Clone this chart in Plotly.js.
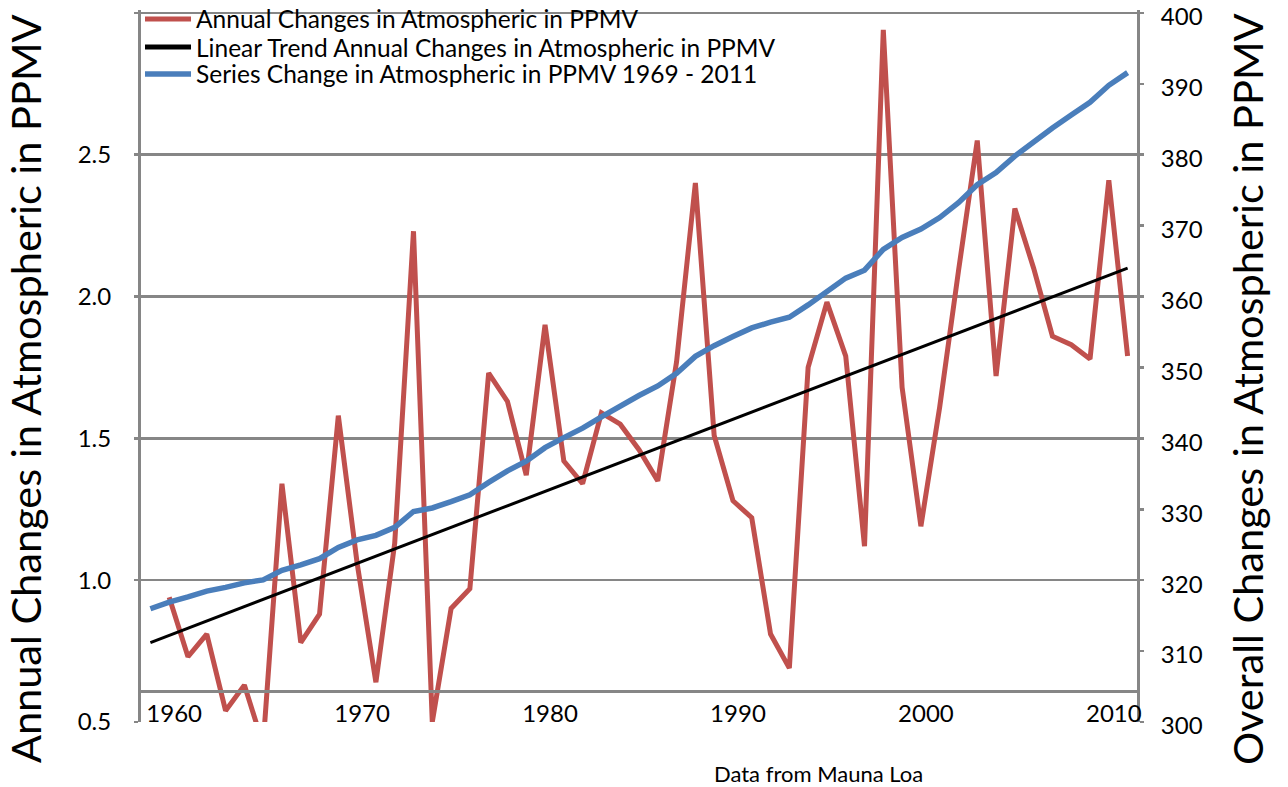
<!DOCTYPE html>
<html>
<head>
<meta charset="utf-8">
<script src="https://cdn.plot.ly/plotly-3.0.1.min.js"></script>
<style>html,body{margin:0;padding:0;background:#fff;}#chart{width:1288px;height:787px;}</style>
</head>
<body>
<div id="chart"></div>
<script>
// Annual mean CO2 at Mauna Loa (ppmv), 1959-2011 (right axis)
const seriesYears = [1959,1960,1961,1962,1963,1964,1965,1966,1967,1968,1969,1970,1971,1972,1973,1974,1975,1976,1977,1978,1979,1980,1981,1982,1983,1984,1985,1986,1987,1988,1989,1990,1991,1992,1993,1994,1995,1996,1997,1998,1999,2000,2001,2002,2003,2004,2005,2006,2007,2008,2009,2010,2011];
const seriesValues = [315.97,316.91,317.64,318.45,318.99,319.62,320.04,321.38,322.16,323.04,324.62,325.68,326.32,327.45,329.68,330.18,331.08,332.05,333.78,335.41,336.78,338.68,340.10,341.44,343.03,344.58,346.04,347.39,349.16,351.56,353.07,354.35,355.57,356.38,357.07,358.82,360.80,362.59,363.71,366.65,368.33,369.52,371.13,373.22,375.77,377.49,379.80,381.90,383.76,385.59,387.37,389.78,391.57];

// Annual changes (ppmv), 1960-2011 (left axis)
const changeYears = [1960,1961,1962,1963,1964,1965,1966,1967,1968,1969,1970,1971,1972,1973,1974,1975,1976,1977,1978,1979,1980,1981,1982,1983,1984,1985,1986,1987,1988,1989,1990,1991,1992,1993,1994,1995,1996,1997,1998,1999,2000,2001,2002,2003,2004,2005,2006,2007,2008,2009,2010,2011];
const changeValues = [0.94,0.73,0.81,0.54,0.63,0.42,1.34,0.78,0.88,1.58,1.06,0.64,1.13,2.23,0.50,0.90,0.97,1.73,1.63,1.37,1.90,1.42,1.34,1.59,1.55,1.46,1.35,1.77,2.40,1.51,1.28,1.22,0.81,0.69,1.75,1.98,1.79,1.12,2.94,1.68,1.19,1.61,2.09,2.55,1.72,2.31,2.10,1.86,1.83,1.78,2.41,1.79];

// Linear trend of annual changes (end points)
const trendYears = [1959, 2011];
const trendValues = [0.78, 2.10];

// Axis ticks
const xLabelYears = [1960,1970,1980,1990,2000,2010];
const xTickMarks = [1968.5,1978.5,1988.5,1998.5,2008.5];
const leftTickVals = [0.5,1.0,1.5,2.0,2.5,3.0];
const leftTickText = ['0.5','1.0','1.5','2.0','2.5',''];
const rightTickVals = [300,310,320,330,340,350,360,370,380,390,400];

const names = ['Annual Changes in Atmospheric in PPMV',
               'Linear Trend Annual Changes in Atmospheric in PPMV',
               'Series Change in Atmospheric in PPMV 1969 - 2011'];

const FONT = 'Lato, "Open Sans", sans-serif';
const GRAY = '#868686';
const RED = '#C0504D', BLUE = '#4A7EBB', BLACK = '#000000';

const traces = [
  {x: changeYears, y: changeValues, type: 'scatter', mode: 'lines', name: names[0],
   line: {color: RED, width: 5}, xaxis: 'x', yaxis: 'y', legend: 'legend'},
  {x: trendYears, y: trendValues, type: 'scatter', mode: 'lines', name: names[1],
   line: {color: BLACK, width: 3}, xaxis: 'x', yaxis: 'y', showlegend: false},
  {x: seriesYears, y: seriesValues, type: 'scatter', mode: 'lines', name: names[2],
   line: {color: BLUE, width: 5.5}, xaxis: 'x', yaxis: 'y2', legend: 'legend3'},
  // legend-only entry for the trend (thicker sample, as in the original legend)
  {x: [null], y: [null], type: 'scatter', mode: 'lines', name: names[1],
   line: {color: BLACK, width: 5}, xaxis: 'x', yaxis: 'y', legend: 'legend2', hoverinfo: 'skip'}
];

const axisPos = 0.0431;
const legendBase = {x: -0.001, xanchor: 'left', yanchor: 'middle', bgcolor: 'rgba(0,0,0,0)',
                    borderwidth: 0, font: {size: 24.5, family: FONT}, itemwidth: 46};

const layout = {
  width: 1288, height: 787,
  margin: {l: 141, r: 151, t: 10, b: 65, pad: 0, autoexpand: false},
  paper_bgcolor: '#ffffff', plot_bgcolor: '#ffffff',
  font: {family: FONT, color: '#000000'},
  showlegend: true,
  legend: Object.assign({}, legendBase, {y: 0.9874}),
  legend2: Object.assign({}, legendBase, {y: 0.9480}),
  legend3: Object.assign({}, legendBase, {y: 0.9101}),
  xaxis: {range: [1958.5, 2011.5], anchor: 'free', position: axisPos,
          tickvals: xLabelYears, ticktext: xLabelYears.map(String),
          ticks: '', showgrid: false, zeroline: false,
          showline: true, linecolor: GRAY, linewidth: 2.5,
          tickfont: {size: 24, family: FONT}, ticklabelstandoff: 0, ticklabelshift: 5,
          ticklabeloverflow: 'allow'},
  xaxis2: {range: [1958.5, 2011.5], overlaying: 'x', anchor: 'free', position: axisPos,
           tickvals: xTickMarks, ticks: 'outside', ticklen: 5, tickwidth: 2.5, tickcolor: GRAY,
           showticklabels: false, showgrid: false, zeroline: false, showline: false},
  yaxis: {range: [0.5, 3.01], tickvals: leftTickVals, ticktext: leftTickText,
          showgrid: true, gridcolor: GRAY, gridwidth: 2.5, zeroline: false,
          showline: true, linecolor: GRAY, linewidth: 3,
          ticks: 'outside', ticklen: 4, tickwidth: 2.5, tickcolor: GRAY,
          tickfont: {size: 24, family: FONT}, ticklabelstandoff: 18, ticklabeloverflow: 'allow'},
  yaxis2: {range: [300, 400.4], tickvals: rightTickVals,
           overlaying: 'y', side: 'right', anchor: 'x',
           showgrid: false, zeroline: false,
           showline: true, linecolor: GRAY, linewidth: 3,
           ticks: 'outside', ticklen: 4, tickwidth: 2.5, tickcolor: GRAY,
           tickfont: {size: 24, family: FONT}, ticklabelstandoff: 12, ticklabelshift: 4,
           ticklabeloverflow: 'allow'},
  annotations: [
    {text: 'Annual Changes in Atmospheric in PPMV', textangle: -90, xref: 'paper', yref: 'paper',
     x: -0.1165, y: 0.4689, xanchor: 'center', yanchor: 'middle', showarrow: false,
     font: {size: 41.5, family: FONT}},
    {text: 'Overall Changes in Atmospheric in PPMV', textangle: -90, xref: 'paper', yref: 'paper',
     x: 1.1104, y: 0.4675, xanchor: 'center', yanchor: 'middle', showarrow: false,
     font: {size: 41.5, family: FONT}},
    {text: 'Data from Mauna Loa', xref: 'paper', yref: 'paper', x: 0.68, y: -0.0721,
     xanchor: 'center', yanchor: 'middle', showarrow: false, font: {size: 22, family: FONT}}
  ]
};

Plotly.newPlot('chart', traces, layout, {displayModeBar: false, staticPlot: true});
</script>
</body>
</html>
